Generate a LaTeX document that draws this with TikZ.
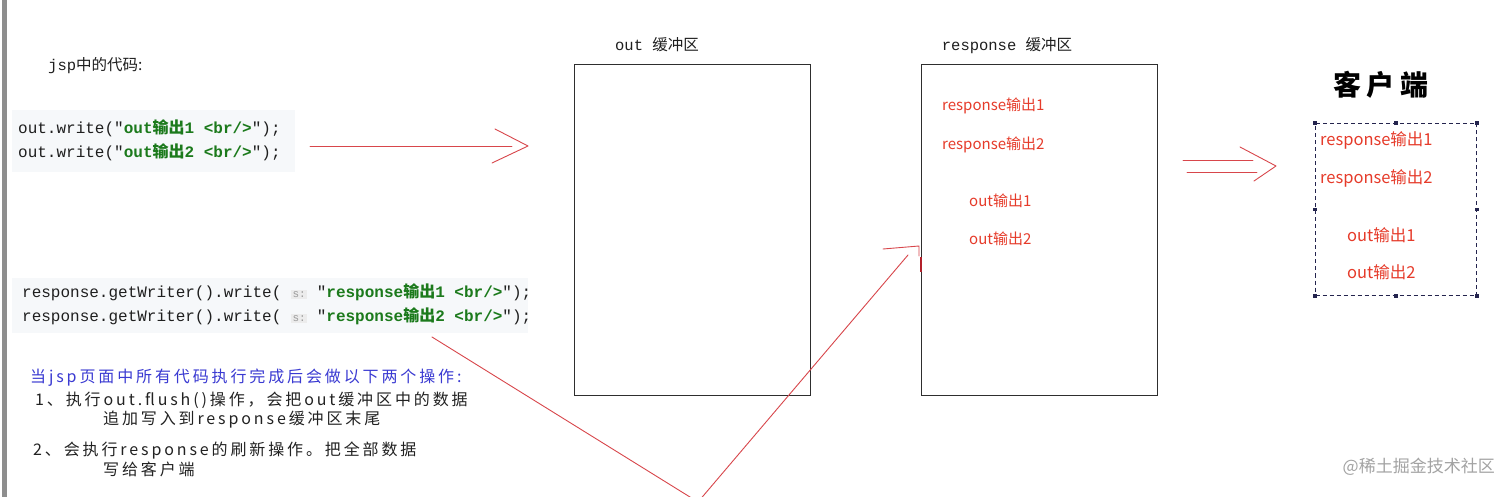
\documentclass[tikz,border=0pt]{standalone}
\usepackage{fontspec}
\setmainfont{Liberation Sans}
\setmonofont{Liberation Mono}
\newfontfamily\cjk{Noto Sans CJK SC}
\newfontfamily\cjkwide[LetterSpace=18]{Noto Sans CJK SC}
\usepackage{xcolor}
\usepackage{tikz}
\usetikzlibrary{calc}
\definecolor{codebg}{HTML}{F6F8FA}
\definecolor{codetext}{HTML}{1F1F1F}
\definecolor{strgreen}{HTML}{1C7A1C}
\definecolor{hintbg}{HTML}{ECECEC}
\definecolor{hintfg}{HTML}{9A9A9A}
\definecolor{outred}{HTML}{E63B2A}
\definecolor{linered}{HTML}{D8464B}
\definecolor{edgered}{HTML}{B3202A}
\definecolor{noteblue}{HTML}{3A3AD2}
\definecolor{notetext}{HTML}{222222}
\definecolor{boxline}{HTML}{2E2E2E}
\definecolor{navy}{HTML}{24244E}
\definecolor{bargray}{HTML}{8E8E8E}
\definecolor{wmgray}{HTML}{A3A3A3}
\newcommand{\zh}[1]{{\cjk #1}}
\newcommand{\hint}[1]{{\setlength\fboxsep{1.5pt}\colorbox{hintbg}{\textcolor{hintfg}{\fontsize{11}{12}\selectfont #1}}}}
\newcommand{\str}[1]{\textcolor{strgreen}{\bfseries #1}}
\tikzset{
  buf/.style={draw=boxline, line width=1.2pt, inner sep=0pt},
  code/.style={font=\fontsize{16}{18}\selectfont\ttfamily, text=codetext, inner sep=0pt, anchor=west},
  note/.style={font=\fontsize{16}{19}\selectfont\cjkwide, text=notetext, inner sep=0pt, anchor=west},
  buflab/.style={font=\fontsize{15.5}{18}\selectfont\ttfamily, text=codetext, inner sep=0pt},
  outtxt/.style={font=\fontsize{15}{18}\selectfont\cjk, text=outred, inner sep=0pt, anchor=west},
  clienttxt/.style={font=\fontsize{16.5}{19}\selectfont\cjk, text=outred, inner sep=0pt, anchor=west},
  redline/.style={draw=linered, line width=0.9pt, line cap=round, line join=round},
  handle/.style={fill=navy, minimum size=3.5pt, inner sep=0pt},
}

\begin{document}
\begin{tikzpicture}[x=1pt, y=-1pt]
  \clip (0,0) rectangle (1512,497);
  \fill[white] (0,0) rectangle (1512,497);
  \fill[bargray] (2,0) rectangle (7,497);
  % code on the left
  \fill[codebg] (12,110) rectangle (295,172);
  \fill[codebg] (12,278) rectangle (528,333);
  \node[buflab, anchor=west] (jsp) at (48,66) {jsp\zh{中的代码:}};
  \node[code] (ow1) at (18,128) {out.write("\str{out\zh{输出}1 <br/>}");};
  \node[code] (ow2) at (18,152) {out.write("\str{out\zh{输出}2 <br/>}");};
  \node[code] (rw1) at (22,292) {response.getWriter().write( \hint{s:} "\str{response\zh{输出}1 <br/>}");};
  \node[code] (rw2) at (22,316) {response.getWriter().write( \hint{s:} "\str{response\zh{输出}2 <br/>}");};
  \node[note, text=noteblue] (n0) at (30,378) {当jsp页面中所有代码执行完成后会做以下两个操作:};
  \node[note] (n1) at (35,400) {1、执行out.flush()操作，会把out缓冲区中的数据};
  \node[note] (n1b) at (103,420) {追加写入到response缓冲区末尾};
  \node[note] (n2) at (33,451) {2、会执行response的刷新操作。把全部数据};
  \node[note] (n2b) at (103,469) {写给客户端};
  % the two buffers
  \node[buf, anchor=north west, minimum width=236pt, minimum height=331pt] (outbuf) at (574,64) {};
  \node[buf, anchor=north west, minimum width=236pt, minimum height=331pt] (respbuf) at (921,64) {};
  \node[buflab] (outlab) at (657,45) {out \zh{缓冲区}};
  \node[buflab] (resplab) at (1007,46) {response \zh{缓冲区}};
  \node[outtxt] (r1) at (942,106) {response输出1};
  \node[outtxt] (r2) at (942,145) {response输出2};
  \node[outtxt] (o1) at (969,201) {out输出1};
  \node[outtxt] (o2) at (969,239) {out输出2};
  % the client
  \node[font=\fontsize{28}{32}\selectfont\cjkwide\bfseries, inner sep=0pt] (clientlab) at (1381,85) {客户端};
  \node[draw=navy, line width=1pt, dash pattern=on 4pt off 3pt, anchor=north west,
        minimum width=161pt, minimum height=172pt, inner sep=0pt] (client) at (1315,123) {};
  \foreach \p in {north west,north,north east,east,south east,south,south west,west}
    \node[handle] at (client.\p) {};
  \node[clienttxt] (c1) at (1320,140) {response输出1};
  \node[clienttxt] (c2) at (1320,178) {response输出2};
  \node[clienttxt] (c3) at (1347,235) {out输出1};
  \node[clienttxt] (c4) at (1347,272) {out输出2};
  % arrows
  \coordinate (a1s) at (310,146);
  \coordinate (a1e) at (528,146);
  \draw[redline] (a1s) -- ($(a1e)+(-16,0)$);
  \draw[redline] ($(a1e)+(-33,-17)$) -- (a1e) -- ($(a1e)+(-36,17)$);
  \coordinate (a2e) at (1276,166);
  \draw[redline] (1183,160) -- (1253,160);
  \draw[redline] (1187,172) -- (1257,172);
  \draw[redline] ($(a2e)+(-36,-19)$) -- (a2e) -- ($(a2e)+(-22,15)$);
  \coordinate (fstart) at (432,337);
  \coordinate (fturn) at (698,502);
  \coordinate (fend) at (908,255);
  \draw[redline] (fstart) -- (fturn) -- (fend);
  \draw[redline] (883,249) -- (919,246) -- (919,256);
  \draw[draw=edgered, line width=2.2pt] ($(respbuf.north west)+(0,193)$) -- ($(respbuf.north west)+(0,208)$);
  \node[font=\fontsize{17}{20}\selectfont\cjk, text=wmgray, inner sep=0pt, anchor=east] (wm) at (1495,467) {@稀土掘金技术社区};
\end{tikzpicture}
\end{document}
